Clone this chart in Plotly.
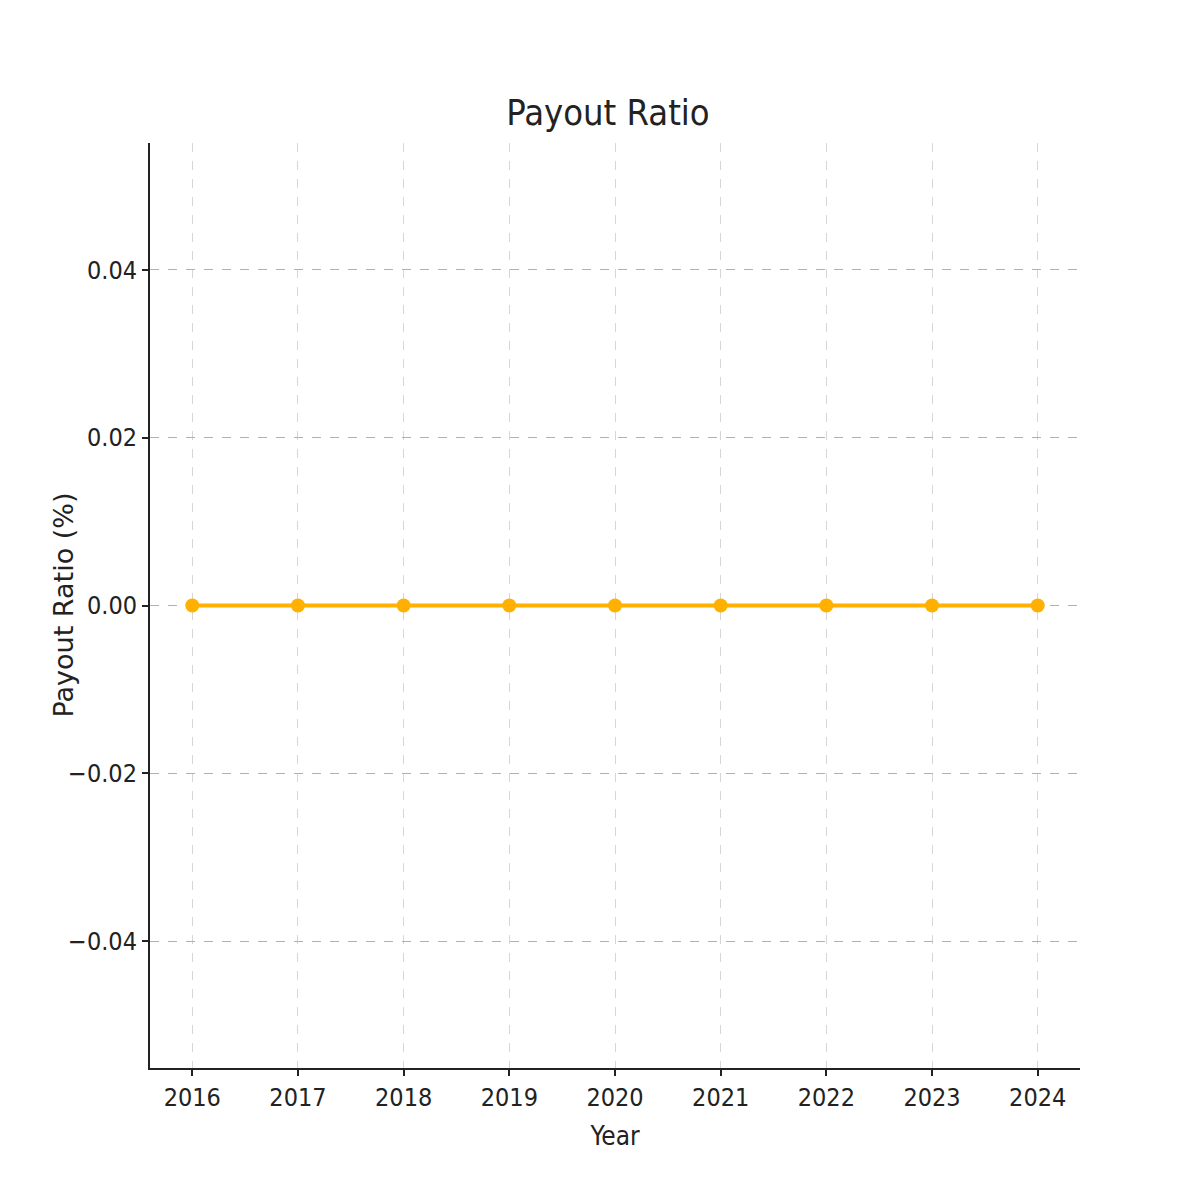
import plotly.graph_objects as go

years = [2016, 2017, 2018, 2019, 2020, 2021, 2022, 2023, 2024]
payout_ratio = [0, 0, 0, 0, 0, 0, 0, 0, 0]
y_ticks = [-0.04, -0.02, 0.0, 0.02, 0.04]
y_tick_labels = ["\u22120.04", "\u22120.02", "0.00", "0.02", "0.04"]

cond = "DejaVu Sans Condensed, DejaVu Sans, sans-serif"

fig = go.Figure()
fig.add_trace(go.Scatter(
    x=years, y=payout_ratio, mode="lines+markers",
    line=dict(color="#FFB000", width=4),
    marker=dict(color="#FFB000", size=14, symbol="circle"),
    showlegend=False,
))

fig.update_layout(
    width=1200, height=1200,
    paper_bgcolor="white", plot_bgcolor="white",
    margin=dict(l=142, r=128, t=135, b=140),
    title=dict(text="Payout Ratio", x=0.5, xanchor="center", y=0.913, yanchor="middle",
               font=dict(family=cond, size=36, color="#222222")),
    font=dict(family=cond, color="#222222"),
    annotations=[dict(
        text="Payout Ratio (%)", textangle=-90,
        xref="paper", yref="paper", x=-0.0935, y=0.5,
        xanchor="center", yanchor="middle", showarrow=False,
        font=dict(family="DejaVu Sans, sans-serif", size=27, color="#222222"),
    )],
)
fig.update_xaxes(
    range=[2015.6, 2024.4], tickmode="array", tickvals=years,
    ticktext=[str(y) for y in years],
    showline=True, linecolor="#222222", linewidth=2,
    ticks="outside", ticklen=6, tickwidth=1.5, tickcolor="#222222",
    showgrid=True, gridcolor="#d6d6d6", griddash="dash", gridwidth=1,
    zeroline=False,
    tickfont=dict(family=cond, size=25, color="#222222"),
    title=dict(text="Year", font=dict(family=cond, size=26, color="#222222"), standoff=16),
)
fig.update_yaxes(
    range=[-0.0551, 0.0551], tickmode="array", tickvals=y_ticks, ticktext=y_tick_labels,
    showline=True, linecolor="#222222", linewidth=2,
    ticks="outside", ticklen=6, tickwidth=1.5, tickcolor="#222222",
    showgrid=True, gridcolor="#b0b0b0", griddash="dash", gridwidth=1,
    zeroline=False,
    tickfont=dict(family=cond, size=25, color="#222222"),
)

fig.write_html("out.html")
